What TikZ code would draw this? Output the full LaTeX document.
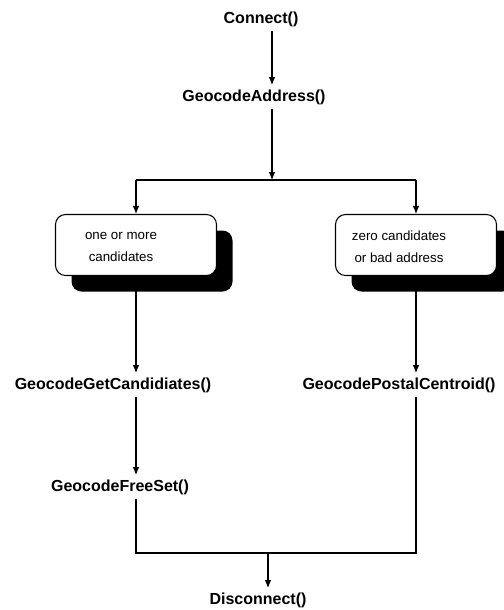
\documentclass[tikz,border=0pt]{standalone}
\usepackage{fontspec}
\setmainfont{Liberation Sans}
\usetikzlibrary{arrows.meta, shadows}

\begin{document}
\begin{tikzpicture}[
                > = {Latex[length=6pt, width=5pt]}, % arrow head style
                x = 0.75pt, y = -0.75pt, % pixel grid, y going down
                line width = 0.8pt % line style
            ]

            \tikzstyle{func}=[
            font = \bfseries\fontsize{12}{14}\selectfont,
            inner sep = 3pt
            ]
            \tikzstyle{state}=[
            draw = black,
            fill = white,
            rounded corners = 7.5pt,
            minimum width = 120.75pt, % 161px
            minimum height = 45.75pt, % 61px
            drop shadow = {shadow xshift = 12pt, shadow yshift = -12pt,
                           fill = black, opacity = 1}
            ]
            \tikzstyle{statetext}=[
            font = \fontsize{10}{16.5}\selectfont,
            align = center
            ]

            \useasboundingbox (0,0) rectangle (503,610);

            \node[func] (conn) at (261,19) {Connect()};
            \node[func] (addr) at (254,97) {GeocodeAddress()};
            \coordinate (split) at (272,180);

            \node[state] (lbox) at (136,245) {};
            \node[state] (rbox) at (416,245) {};
            \node[statetext] (ltext) at (121,247) {one or more\\candidates};
            \node[statetext] (rtext) at (399,247) {zero candidates\\or bad address};

            \node[func] (getc) at (113,385) {GeocodeGetCandidiates()};
            \node[func] (postal) at (399,385) {GeocodePostalCentroid()};
            \node[func] (free) at (120,487) {GeocodeFreeSet()};
            \coordinate (join) at (268,553);
            \node[func] (disc) at (258,600) {Disconnect()};

            \draw[->] (conn.south -| split) -- (addr.north -| split);
            \draw[->] (addr.south -| split) -- (split);
            \draw (lbox.north |- split) -- (rbox.north |- split);
            \draw[->] (lbox.north |- split) -- (lbox.north);
            \draw[->] (rbox.north |- split) -- (rbox.north);
            \draw[->] (lbox.south) -- (getc.north -| lbox);
            \draw[->] (rbox.south) -- (postal.north -| rbox);
            \draw[->] (getc.south -| lbox) -- (free.north -| lbox);
            \draw (free.south -| lbox) -- (lbox |- join) -- (rbox |- join)
                  -- (postal.south -| rbox);
            \draw[->] (join) -- (disc.north -| join);
        \end{tikzpicture}
\end{document}
